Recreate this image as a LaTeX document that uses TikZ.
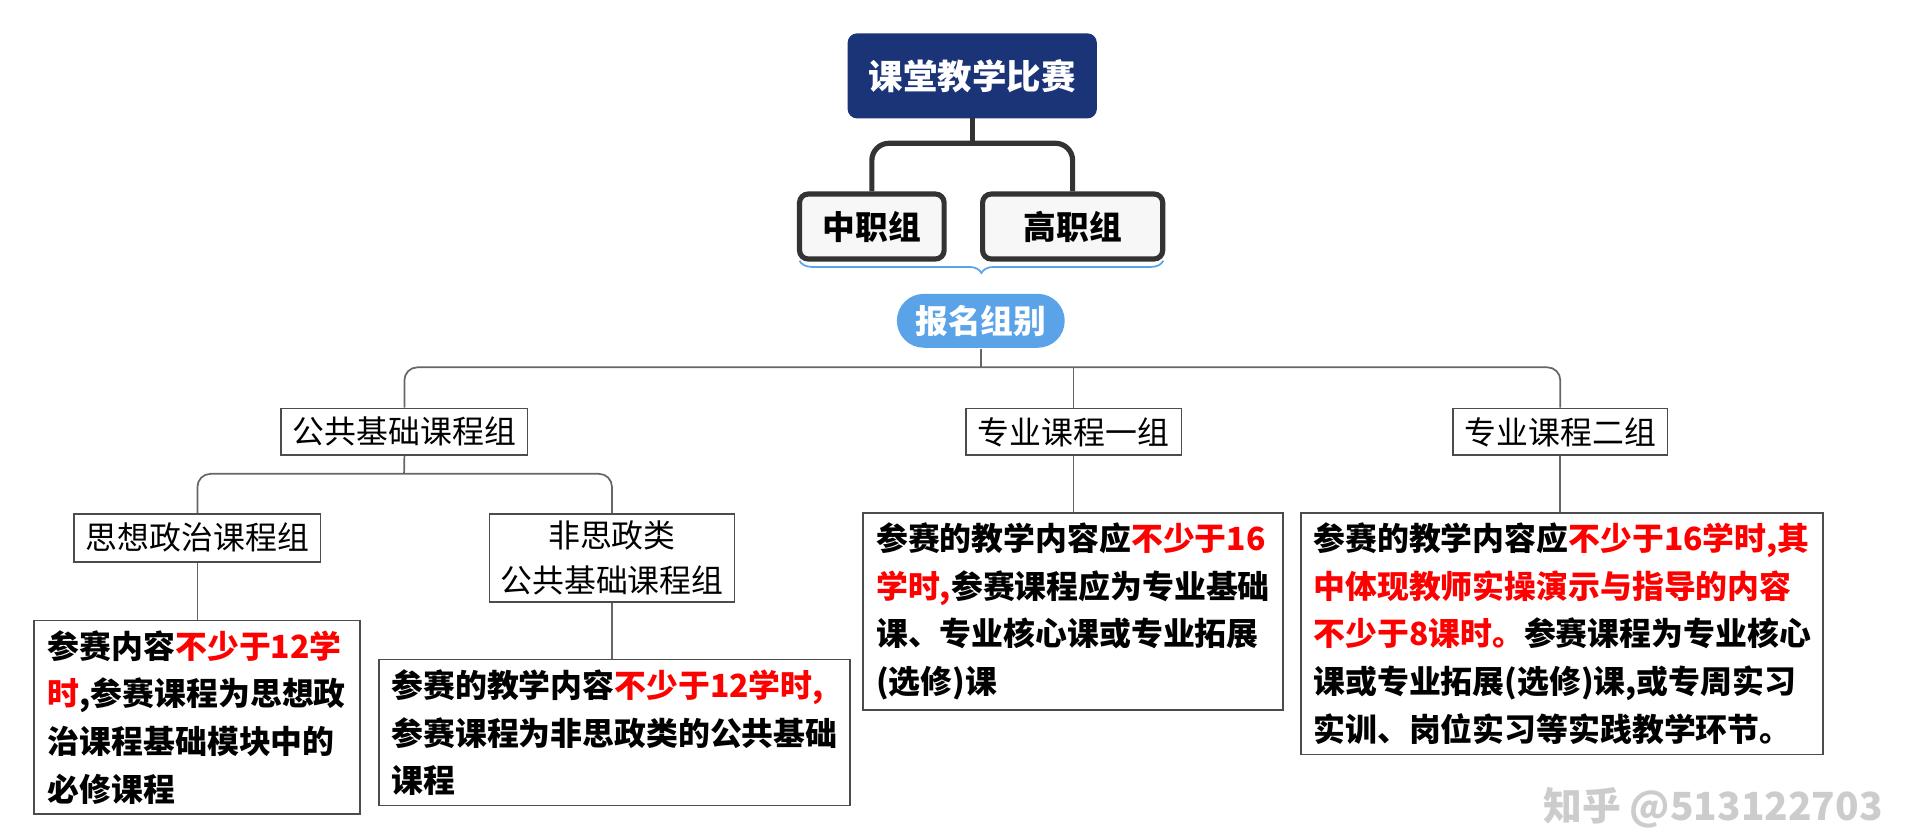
\documentclass[tikz,border=0pt]{standalone}
\usepackage{fontspec}
\setmainfont{Noto Sans CJK SC}
\usetikzlibrary{decorations.pathreplacing}
\definecolor{navy}{HTML}{1B3478}
\definecolor{skyblue}{HTML}{5BA3E8}
\tikzstyle{titleBox}=[draw = navy, fill = navy, rounded corners = 2pt, text = white, font = \bfseries\fontsize{8}{10}\selectfont, minimum width = 2.02cm, minimum height = 0.68cm, inner sep = 0pt]
\tikzstyle{groupBox}=[draw = black!80, line width = 1.2pt, fill = black!3, rounded corners = 2pt, font = \bfseries\fontsize{7.6}{10}\selectfont, minimum height = 0.53cm, inner sep = 0pt]
\tikzstyle{pillBox}=[fill = skyblue, rounded corners = 0.22cm, text = white, font = \bfseries\fontsize{7.6}{10}\selectfont, minimum width = 1.37cm, minimum height = 0.44cm, inner sep = 0pt]
\tikzstyle{catBox}=[draw = black!70, line width = 0.4pt, font = \fontsize{7.4}{10.6}\selectfont, align = center, inner sep = 0pt, anchor = north west]
\tikzstyle{textBox}=[draw = black!70, line width = 0.4pt, font = \bfseries\fontsize{7.4}{11.1}\selectfont, align = left, inner xsep = 0.1cm, inner ysep = 0.08cm, anchor = north west]
\tikzstyle{conn}=[black!60, line width = 0.4pt, rounded corners = 3pt]
\newcommand{\hi}[1]{\textcolor{red}{#1}}
\begin{document}
\begin{tikzpicture}[x = 0.01cm, y = -0.01cm]
\useasboundingbox (0,0) rectangle (1568,677);
% Top
\node[titleBox] (title) at (794,62) {课堂教学比赛};
\node[groupBox, minimum width = 1.18cm] (zhong) at (712,185) {中职组};
\node[groupBox, minimum width = 1.47cm] (gao) at (876,185) {高职组};
\draw[black!80, line width = 1.2pt] (title.south) -- (794,117);
\draw[black!80, line width = 1.2pt, rounded corners = 4pt] (zhong.north) |- (794,117) -| (gao.north);
\draw[skyblue, decorate, decoration = {brace, amplitude = 0.1cm}] (950,213) -- (653,213);
\node[pillBox] (apply) at (801,262) {报名组别};
% Categories
\node[catBox, minimum width = 2.01cm, minimum height = 0.38cm] (pub) at (229,333) {公共基础课程组};
\node[catBox, minimum width = 1.76cm, minimum height = 0.38cm] (pro1) at (788,333) {专业课程一组};
\node[catBox, minimum width = 1.75cm, minimum height = 0.38cm] (pro2) at (1186,333) {专业课程二组};
\draw[conn] (apply.south) -- (801,300);
\draw[conn] (pub.north) |- (801,300) -| (pro2.north);
\draw[conn] (pro1.north) -- (pro1.north |- 0,300);
% Start left
\node[catBox, minimum width = 2.01cm, minimum height = 0.39cm] (ideo) at (60,419) {思想政治课程组};
\node[catBox, minimum width = 2.00cm, minimum height = 0.72cm] (nonideo) at (399,419) {非思政类\\公共基础课程组};
\draw[conn] (pub.south) -- (330,387);
\draw[conn] (ideo.north) |- (330,387) -| (nonideo.north);
\node[textBox, minimum width = 2.66cm, minimum height = 1.41cm] (ideoText) at (27,506)
  {参赛内容\hi{不少于12学}\\\hi{时},参赛课程为思想政\\治课程基础模块中的\\必修课程};
\node[textBox, minimum width = 3.80cm, minimum height = 1.09cm] (nonText) at (309,538)
  {参赛的教学内容\hi{不少于12学时,}\\参赛课程为非思政类的公共基础\\课程};
\draw[conn] (ideo.south) -- (ideoText.north -| ideo.south);
\draw[conn] (nonideo.south) -- (nonText.north -| nonideo.south);
% Start right
\node[textBox, minimum width = 3.43cm, minimum height = 1.41cm] (pro1Text) at (704,418)
  {参赛的教学内容应\hi{不少于16}\\\hi{学时,}参赛课程应为专业基础\\课、专业核心课或专业拓展\\(选修)课};
\node[textBox, minimum width = 4.24cm, minimum height = 1.76cm] (pro2Text) at (1062,418)
  {参赛的教学内容应\hi{不少于16学时,其}\\\hi{中体现教师实操演示与指导的内容}\\\hi{不少于8课时。}参赛课程为专业核心\\课或专业拓展(选修)课,或专周实习\\实训、岗位实习等实践教学环节。};
\draw[conn] (pro1.south) -- (pro1Text.north -| pro1.south);
\draw[conn] (pro2.south) -- (pro2Text.north -| pro2.south);
\node[text = black!20, font = \bfseries\fontsize{9}{10}\selectfont, anchor = east] (mark) at (1550,660) {知乎 @513122703};
\end{tikzpicture}
\end{document}
